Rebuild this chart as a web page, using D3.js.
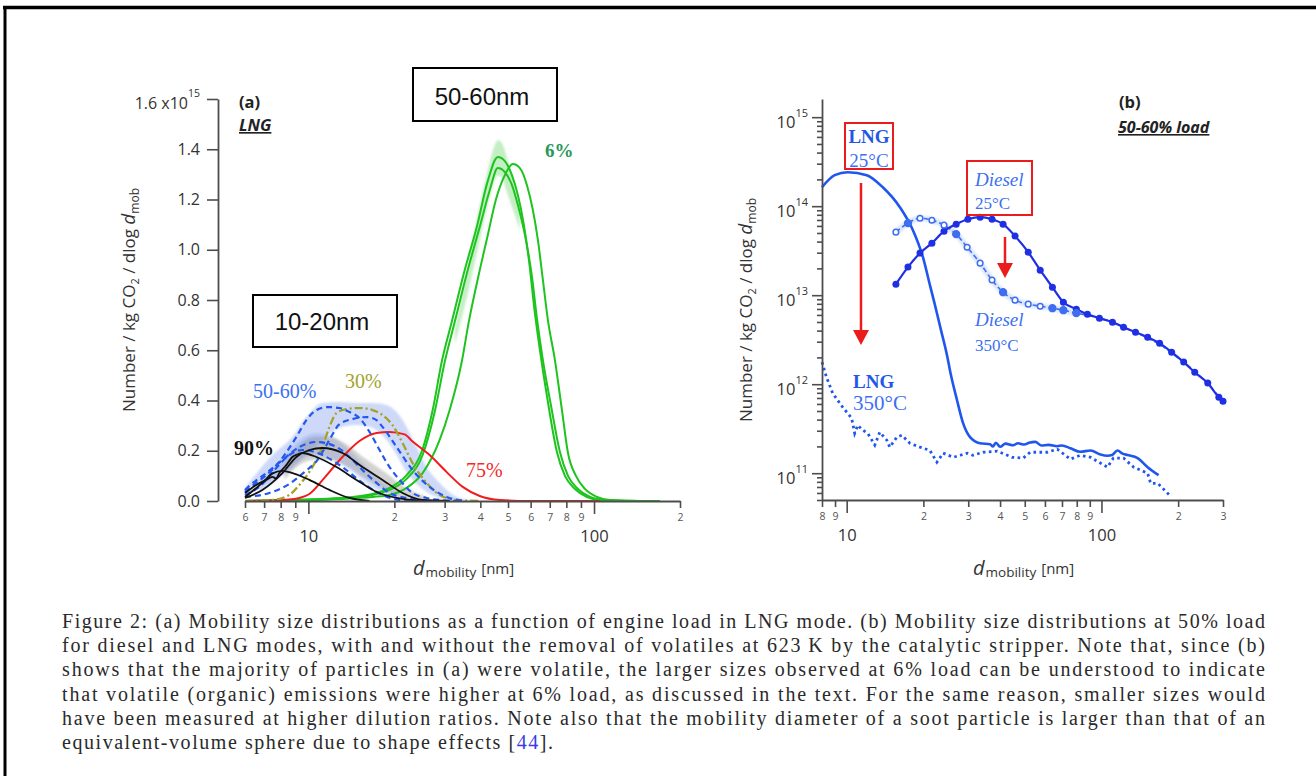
<!DOCTYPE html>
<html>
<head>
<meta charset="utf-8">
<title>Mobility size distributions</title>
<script src="https://cdn.jsdelivr.net/npm/d3@7"></script>
<style>
  html, body { margin: 0; padding: 0; background: #fff; }
  svg { display: block; }
</style>
</head>
<body>
<svg id="fig" width="1316" height="776"></svg>
<script>
// ===== Panel (a): LNG mode, size distributions by engine load =====
// each point: [mobility diameter (nm), number (1e15 / kg CO2 / dlog d)]
const load6Run1 = [[6,0],[9.3,0.006],[12.85,0.012],[16.77,0.028],[19.24,0.052],[22.08,0.103],[25.12,0.207],[27.24,0.362],[29.29,0.553],[31.76,0.712],[35.27,0.919],[38.87,1.091],[42.48,1.274],[46.06,1.369],[48.74,1.353],[51.58,1.297],[54.13,1.218],[56.82,1.099],[59.64,0.927],[61.6,0.78],[64.65,0.601],[68.96,0.394],[74.16,0.195],[79.12,0.1],[85.77,0.048],[94.49,0.016],[105,0.004],[145,0],[170,0]];
const load6Run2 = [[6,0],[9.3,0.004],[12.85,0.01],[16.77,0.024],[19.24,0.044],[22.08,0.088],[25.12,0.183],[27.68,0.354],[30.01,0.553],[32.53,0.712],[36.14,0.919],[39.81,1.091],[43.17,1.238],[46.06,1.325],[48.74,1.309],[51.58,1.258],[54.13,1.178],[57.28,1.059],[60.61,0.895],[63.1,0.728],[66.23,0.561],[70.64,0.382],[75.98,0.195],[81.07,0.1],[87.88,0.048],[96.83,0.016],[107.5,0.004],[145,0],[170,0]];
const load6Run3 = [[6,0],[9.3,0.002],[12.85,0.008],[16.77,0.016],[19.24,0.024],[22.08,0.052],[25.12,0.111],[28.82,0.243],[31.24,0.362],[34.42,0.553],[36.43,0.712],[39.81,0.919],[42.48,1.059],[45.31,1.198],[48.74,1.297],[51.99,1.341],[55.02,1.325],[58.21,1.258],[61.09,1.158],[63.61,1.039],[66.23,0.88],[68.96,0.72],[72.97,0.561],[77.22,0.362],[81.07,0.191],[86.46,0.1],[92.99,0.048],[102.4,0.016],[113.8,0.004],[145,0],[170,0]];
const load75 = [[6,0],[8.11,0.004],[9.3,0.012],[10.08,0.028],[11.38,0.092],[13.16,0.175],[15.1,0.239],[17.32,0.271],[19.24,0.275],[21.72,0.265],[23.17,0.237],[26.58,0.183],[30.5,0.115],[34.7,0.056],[39.81,0.02],[46.81,0.004],[59.64,0],[105,0]];
const load30 = [[6,0],[7.48,0.004],[8.58,0.024],[9.3,0.064],[10.33,0.135],[11.2,0.215],[11.85,0.295],[12.54,0.35],[13.6,0.366],[15.1,0.37],[16.77,0.362],[18.18,0.342],[19.71,0.302],[21.37,0.231],[23.17,0.151],[25.94,0.072],[28.82,0.024],[33.06,0.004],[40,0]];
const load5060A = [[6,0.036],[6.36,0.06],[7.12,0.103],[7.91,0.155],[8.58,0.211],[9.08,0.255],[9.84,0.322],[10.67,0.362],[11.66,0.374],[12.85,0.37],[13.93,0.354],[15.1,0.33],[16.37,0.275],[17.75,0.203],[19.24,0.135],[20.86,0.084],[23.17,0.032],[25.94,0.012],[28.82,0.004],[33.87,0]];
const load5060B = [[6,0.016],[7.3,0.032],[8.58,0.068],[9.68,0.115],[10.75,0.163],[11.85,0.243],[12.85,0.306],[14.27,0.326],[15.98,0.334],[17.32,0.322],[18.18,0.295],[20.36,0.215],[23.17,0.123],[26.58,0.056],[30.5,0.016],[35.27,0]];
const load5060C = [[6,0.044],[6.21,0.06],[7.12,0.111],[8.11,0.163],[9.3,0.215],[10.67,0.235],[12.54,0.215],[13.93,0.175],[15.47,0.123],[17.32,0.072],[19.24,0.032],[22.08,0.012],[26.58,0]];
const load5060D = [[6,0.024],[6.73,0.056],[7.6,0.123],[8.58,0.183],[9.53,0.203],[10.5,0.195],[11.57,0.175],[13.16,0.135],[15.47,0.072],[18.18,0.024],[20.86,0.004],[24.52,0]];
const load90A = [[6,0.012],[6.9,0.044],[8.11,0.111],[9.08,0.175],[10.08,0.203],[11.2,0.211],[13.16,0.191],[15.47,0.135],[18.18,0.084],[21.37,0.032],[25.12,0.004],[31.24,0]];
const load90B = [[6,0.032],[6.57,0.064],[7.12,0.084],[7.48,0.096],[7.7,0.09],[7.91,0.111],[8.37,0.143],[8.79,0.175],[9.2,0.186],[9.53,0.191],[10.67,0.175],[12.54,0.135],[14.74,0.084],[17.32,0.036],[20.36,0.012],[24.52,0]];
const load90C = [[6,0.016],[6.9,0.072],[7.5,0.11],[8.1,0.12],[8.58,0.115],[10.08,0.084],[11.85,0.044],[13.93,0.012],[16.37,0]];
// shaded spread: [diameter, lower, upper]
const spread6 = [[32.53,0.621,0.681],[36.73,0.86,0.979],[39.81,1.039,1.178],[42.48,1.178,1.317],[44.96,1.278,1.417],[46.06,1.297,1.437],[47.56,1.286,1.425],[49.92,1.218,1.357],[52.83,1.138,1.258],[55.02,1.079,1.158]];
const spread5060Upper = [[6,0.02,0.052],[7.48,0.084,0.183],[8.79,0.131,0.255],[9.84,0.183,0.334],[11.2,0.243,0.39],[12.85,0.291,0.394],[14.74,0.302,0.39],[16.77,0.291,0.39],[18.78,0.243,0.382],[20.36,0.183,0.354],[22.08,0.115,0.295],[23.93,0.068,0.215],[25.94,0.036,0.135],[28.82,0.012,0.072],[33.06,0,0.016],[36.73,0,0.004]];
const spread5060Lower = [[6.73,0.036,0.076],[7.91,0.092,0.155],[9.3,0.163,0.243],[10.67,0.183,0.271],[12.34,0.163,0.251],[13.93,0.123,0.203],[15.72,0.076,0.143],[17.75,0.036,0.084],[20.86,0.008,0.028]];
const spread90 = [[8.24,0.084,0.143],[9.3,0.143,0.223],[10.5,0.163,0.255],[11.85,0.163,0.255],[13.37,0.143,0.231],[15.72,0.092,0.171],[18.49,0.044,0.115],[21.72,0.012,0.056],[25.53,0,0.02]];

const xMinorA = [6,7,8,9,20,30,40,50,60,70,80,90,200];
const xMinorLabelsA = ["6","7","8","9","2","3","4","5","6","7","8","9","2"];
const xMajorA = [10,100];
const xMajorLabelsA = ["10","100"];
const yTicksA = [0,0.2,0.4,0.6,0.8,1.0,1.2,1.4,1.6];
const yTickLabelsA = ["0.0","0.2","0.4","0.6","0.8","1.0","1.2","1.4",""];

// ===== Panel (b): 50-60% load, diesel and LNG, with and without catalytic stripper =====
// each point: [mobility diameter (nm), number (/ kg CO2 / dlog d)]
const lng25 = [[8,1.63e14],[8.97,2.23e14],[10.1,2.41e14],[11.99,2.23e14],[13.86,1.63e14],[16.17,9.75e13],[18.2,5.37e13],[19.92,2.67e13],[21.23,1.29e13],[22.21,7.72e12],[23.45,4.05e12],[24.76,2.12e12],[25.67,1.26e12],[27.11,6.61e11],[28.63,3.65e11],[30.5,2.54e11],[33.39,2.17e11],[36.56,2.12e11],[37.5,2.0e11],[38.5,2.2e11],[40,1.98e11],[42,2.15e11],[45,2.06e11],[47,2.17e11],[49.8,2.1e11],[52,2.2e11],[55,2.25e11],[58,2.05e11],[62,2.08e11],[67.1,2.01e11],[70,2.05e11],[75.5,1.91e11],[82.6,1.74e11],[90.6,1.8e11],[99.1,1.62e11],[105.6,1.57e11],[110,1.6e11],[115.6,1.8e11],[121,1.66e11],[126.5,1.6e11],[138.6,1.48e11],[151.8,1.17e11],[167.6,9.5e10]];
const lng350 = [[8,1.77e12],[8.33,1.2e12],[8.81,7.93e11],[9.64,5.52e11],[10.46,4.15e11],[10.75,2.81e11],[11.05,3.46e11],[11.56,3.04e11],[12.1,2.81e11],[12.89,2.07e11],[13.49,2.89e11],[14.37,2.35e11],[14.76,1.96e11],[15.73,2.54e11],[16.46,2.67e11],[17.7,2.17e11],[19.4,1.96e11],[21.2,1.81e11],[22.6,1.33e11],[23.9,1.68e11],[26.2,1.51e11],[27.9,1.59e11],[29.7,1.68e11],[31.3,1.59e11],[34.3,1.72e11],[39,1.77e11],[44.6,1.51e11],[49.3,1.48e11],[52.5,1.72e11],[61.3,1.72e11],[67.1,1.86e11],[75.5,1.44e11],[82.6,1.59e11],[90.6,1.51e11],[105.6,1.17e11],[111.4,1.48e11],[122.1,1.48e11],[133.7,1.17e11],[151.8,1.0e11],[156,7.7e10],[166.4,7.7e10],[187,5.5e10]];
const diesel25 = [[15.6,1.33e13],[17.4,2.07e13],[19.4,2.97e13],[21.6,3.84e13],[24.1,5.23e13],[26.9,6.28e13],[29.9,7.14e13],[33.4,7.52e13],[37.2,7.14e13],[41.1,6.28e13],[45.8,4.61e13],[51.6,3.04e13],[57.5,1.91e13],[64.2,1.23e13],[70.9,8.34e12],[79.7,6.96e12],[88.1,6.12e12],[98.2,5.52e12],[110.5,4.98e12],[122.1,4.37e12],[136.1,3.84e12],[151.8,3.37e12],[169.1,2.89e12],[188.6,2.29e12],[210.3,1.77e12],[232.4,1.36e12],[261.4,1.03e12],[288.9,7.14e11],[300,6.44e11]];
const diesel350 = [[15.6,5.11e13],[17.4,6.44e13],[19.4,7.33e13],[21.6,6.96e13],[24.1,6.12e13],[26.9,4.85e13],[29.7,3.46e13],[33.4,2.29e13],[37.2,1.48e13],[41.1,1.08e13],[45.8,8.79e12],[51.6,7.93e12],[57.5,7.52e12],[64.2,7.14e12],[70.9,6.78e12],[79.7,6.28e12],[88.1,5.96e12],[98.2,5.52e12],[110.5,4.98e12],[122.1,4.37e12],[136.1,3.84e12],[151.8,3.29e12],[169.1,2.81e12],[188.6,2.23e12],[210.3,1.77e12],[232.4,1.4e12],[261.4,1.0e12],[288.9,7.33e11],[300,6.44e11]];
// marker style per diesel-350 point: open circle, filled dot, or none
const diesel350Markers = ["o","f","o","o","o","f","o","o","o","f","o","o","o","f","f","f","","","","","","","","","","","","",""];

const xMinorB = [8,9,20,30,40,50,60,70,80,90,200,300];
const xMinorLabelsB = ["8","9","2","3","4","5","6","7","8","9","2","3"];
const xMajorB = [10,100];
const xMajorLabelsB = ["10","100"];
const yMajorB = [1e11,1e12,1e13,1e14,1e15];
const yExpLabelsB = ["11","12","13","14","15"];

// ---------------------------------------------------------------
const svg = d3.select("#fig");
const FONT = "'Open Sans', sans-serif";
const SERIF = "'Liberation Serif', serif";
const AXC = "#4d4d4d";

const defs = svg.append("defs");
defs.append("filter").attr("id", "soft").attr("x", "-10%").attr("y", "-10%").attr("width", "120%").attr("height", "120%")
  .append("feGaussianBlur").attr("stdDeviation", 1.3);

// page frame
svg.append("line").attr("x1", 3).attr("y1", 7.5).attr("x2", 1316).attr("y2", 7.5).attr("stroke", "#000").attr("stroke-width", 3.5);
svg.append("line").attr("x1", 5).attr("y1", 6).attr("x2", 5).attr("y2", 776).attr("stroke", "#000").attr("stroke-width", 3);

function styleAxis(g) {
  g.attr("font-family", FONT);
  g.selectAll("path.domain").attr("stroke", AXC).attr("stroke-width", 1.8);
  g.selectAll(".tick line").attr("stroke", AXC).attr("stroke-width", 1.6);
}

function bottomAxis(g, x) {
  return function (minor, minorLabels, major, majorLabels) {
    g.call(d3.axisBottom(x).tickValues(minor).tickSize(7).tickSizeOuter(0).tickPadding(6)
      .tickFormat((d, i) => minorLabels[i]));
    styleAxis(g);
    g.selectAll(".tick text").attr("font-size", 10.5).attr("fill", "#555");
    const gm = g.append("g").call(d3.axisBottom(x).tickValues(major).tickSize(13).tickSizeOuter(0).tickPadding(16)
      .tickFormat((d, i) => majorLabels[i]));
    gm.select(".domain").remove();
    styleAxis(gm);
    gm.selectAll(".tick text").attr("font-size", 16.5).attr("fill", "#333");
  };
}

function xTitle(x0, y0) {
  const t = svg.append("text").attr("font-family", FONT).attr("fill", "#333");
  t.append("tspan").attr("x", x0).attr("y", y0).attr("font-size", 20).attr("font-style", "italic").text("d");
  t.append("tspan").attr("font-size", 13.5).attr("dy", 2).attr("dx", 1).text("mobility");
  t.append("tspan").attr("font-size", 15).attr("dy", -3).attr("dx", 5).text("[nm]");
}

function yTitle(cx, cy) {
  const t = svg.append("text").attr("font-family", FONT).attr("fill", "#333").attr("font-size", 17)
    .attr("text-anchor", "middle").attr("transform", `translate(${cx},${cy}) rotate(-90)`);
  t.append("tspan").text("Number / kg CO");
  t.append("tspan").attr("font-size", 11).attr("dy", 4).text("2");
  t.append("tspan").attr("dy", -4).text(" / dlog ");
  t.append("tspan").attr("font-style", "italic").attr("font-size", 19).text("d");
  t.append("tspan").attr("font-size", 12).attr("dy", 4).text("mob");
}

// ================= panel (a) =================
const xA = d3.scaleLog().domain([6, 200]).range([245, 680]);
const yA = d3.scaleLinear().domain([0, 1.6]).range([501, 99]);
const gA = svg.append("g");

const areaA = d3.area().x(d => xA(d[0])).y0(d => yA(d[1])).y1(d => yA(d[2])).curve(d3.curveMonotoneX);
const lineA = d3.line().x(d => xA(d[0])).y(d => yA(d[1])).curve(d3.curveMonotoneX);

[[spread5060Upper, "rgba(125,155,240,0.38)"], [spread5060Lower, "rgba(125,155,240,0.32)"],
 [spread90, "rgba(140,140,140,0.38)"], [spread6, "rgba(100,210,100,0.38)"]]
  .forEach(([data, fill]) => gA.append("path").attr("d", areaA(data)).attr("fill", fill).attr("filter", "url(#soft)"));

const seriesA = [
  { data: load6Run3, color: "#1ec41e", dash: null, w: 2 },
  { data: load6Run2, color: "#1ec41e", dash: null, w: 2 },
  { data: load6Run1, color: "#1ec41e", dash: null, w: 2 },
  { data: load75, color: "#f21c1c", dash: null, w: 2 },
  { data: load30, color: "#a3a329", dash: "8,3,2,3", w: 2.3 },
  { data: load5060A, color: "#2357ee", dash: "6,4", w: 2.2 },
  { data: load5060B, color: "#2357ee", dash: "6,4", w: 2.2 },
  { data: load5060C, color: "#2357ee", dash: "6,4", w: 2.2 },
  { data: load5060D, color: "#2357ee", dash: "6,4", w: 2.2 },
  { data: load90A, color: "#111", dash: null, w: 1.8 },
  { data: load90B, color: "#111", dash: null, w: 1.8 },
  { data: load90C, color: "#111", dash: null, w: 1.8 }
];
seriesA.forEach(s => gA.append("path").attr("d", lineA(s.data)).attr("fill", "none")
  .attr("stroke", s.color).attr("stroke-width", s.w).attr("stroke-dasharray", s.dash));

// axes (a)
const yAxA = gA.append("g").attr("transform", "translate(218,0)")
  .call(d3.axisLeft(yA).tickValues(yTicksA).tickSize(11).tickSizeOuter(0).tickPadding(7)
    .tickFormat((d, i) => yTickLabelsA[i]));
styleAxis(yAxA);
yAxA.selectAll(".tick text").attr("font-size", 16).attr("fill", "#333");
const topLab = gA.append("text").attr("x", 200).attr("y", 109).attr("text-anchor", "end")
  .attr("font-family", FONT).attr("font-size", 16).attr("fill", "#333");
topLab.append("tspan").text("1.6 x10");
topLab.append("tspan").attr("font-size", 10.5).attr("dy", -12).text("15");

const xAxA = gA.append("g").attr("transform", "translate(0,501)");
bottomAxis(xAxA, xA)(xMinorA, xMinorLabelsA, xMajorA, xMajorLabelsA);

xTitle(413, 575);
yTitle(135, 300);

// panel (a) headings and annotations
gA.append("text").attr("x", 239).attr("y", 108).attr("font-family", FONT).attr("font-weight", 700)
  .attr("font-size", 16.5).attr("fill", "#222").text("(a)");
gA.append("text").attr("x", 239).attr("y", 131).attr("font-family", FONT).attr("font-weight", 700)
  .attr("font-style", "italic").attr("text-decoration", "underline").attr("font-size", 16.5).attr("fill", "#222").text("LNG");

function boxLabel(x, y, w, h, label, tx, ty) {
  gA.append("rect").attr("x", x).attr("y", y).attr("width", w).attr("height", h)
    .attr("fill", "#fff").attr("stroke", "#000").attr("stroke-width", 2);
  gA.append("text").attr("x", tx).attr("y", ty).attr("text-anchor", "middle")
    .attr("font-family", "'Liberation Sans', Arial, sans-serif").attr("font-size", 24).attr("fill", "#111").text(label);
}
boxLabel(253, 295, 144, 52, "10-20nm", 322, 330);
boxLabel(413, 68, 144, 53, "50-60nm", 482, 105);

const notesA = [
  { t: "6%", x: 545, y: 157, c: "#27985a", b: true, s: 19 },
  { t: "50-60%", x: 253, y: 398, c: "#3d6ff2", b: false, s: 20 },
  { t: "30%", x: 345, y: 388, c: "#a3a32e", b: false, s: 20 },
  { t: "90%", x: 234, y: 455, c: "#111", b: true, s: 20 },
  { t: "75%", x: 466, y: 477, c: "#f22a2a", b: false, s: 20 }
];
notesA.forEach(n => gA.append("text").attr("x", n.x).attr("y", n.y).attr("font-family", SERIF)
  .attr("font-size", n.s).attr("font-weight", n.b ? 700 : 400).attr("fill", n.c).text(n.t));

// ================= panel (b) =================
const xB = d3.scaleLog().domain([8, 300]).range([822, 1223]);
const yB = d3.scaleLog().domain([5e10, 1.6e15]).range([500, 99]);
const gB = svg.append("g");
const lineB = d3.line().x(d => xB(d[0])).y(d => yB(d[1])).curve(d3.curveMonotoneX);
const lineBRaw = d3.line().x(d => xB(d[0])).y(d => yB(d[1]));

// diesel, stripper on (halo + dashed line)
gB.append("path").attr("d", lineB(diesel350.slice(0, 16))).attr("fill", "none")
  .attr("stroke", "rgba(150,180,245,0.35)").attr("stroke-width", 6).attr("filter", "url(#soft)");
gB.append("path").attr("d", lineB(diesel350)).attr("fill", "none")
  .attr("stroke", "#3f6ef0").attr("stroke-width", 1.6).attr("stroke-dasharray", "5,3");
// diesel, no stripper
gB.append("path").attr("d", lineB(diesel25)).attr("fill", "none").attr("stroke", "#1f2fe4").attr("stroke-width", 2.2);
// LNG curves
gB.append("path").attr("d", lineB(lng25)).attr("fill", "none").attr("stroke", "#1f56ee").attr("stroke-width", 2.6);
gB.append("path").attr("d", lineBRaw(lng350)).attr("fill", "none").attr("stroke", "#1f56ee")
  .attr("stroke-width", 2.8).attr("stroke-dasharray", "2.6,3.4");

// markers
gB.selectAll("circle.d25").data(diesel25).enter().append("circle").attr("class", "d25")
  .attr("cx", d => xB(d[0])).attr("cy", d => yB(d[1])).attr("r", 3.5).attr("fill", "#1f2fe4");
const d350Pts = diesel350.map((d, i) => ({ d, m: diesel350Markers[i] })).filter(p => p.m !== "");
gB.selectAll("circle.d350").data(d350Pts).enter().append("circle").attr("class", "d350")
  .attr("cx", p => xB(p.d[0])).attr("cy", p => yB(p.d[1]))
  .attr("r", p => p.m === "o" ? 2.8 : 3.4)
  .attr("fill", p => p.m === "o" ? "#fff" : "#3f6ef0")
  .attr("stroke", "#3f6ef0").attr("stroke-width", 1.5);

// axes (b)
const yAxB = gB.append("g").attr("transform", "translate(822,0)")
  .call(d3.axisLeft(yB).tickValues(yMajorB).tickSize(10).tickSizeOuter(0).tickFormat(""));
styleAxis(yAxB);
const minorB = [];
for (let e = 10; e <= 14; e++) for (let k = 2; k <= 9; k++) {
  const v = k * Math.pow(10, e);
  if (v >= 5e10 && v <= 1.6e15) minorB.push(v);
}
const yAxBm = gB.append("g").attr("transform", "translate(822,0)")
  .call(d3.axisLeft(yB).tickValues(minorB).tickSize(5).tickSizeOuter(0).tickFormat(""));
yAxBm.select(".domain").remove();
styleAxis(yAxBm);
yMajorB.forEach((v, i) => {
  const t = gB.append("text").attr("x", 808).attr("y", yB(v) + 11).attr("text-anchor", "end")
    .attr("font-family", FONT).attr("font-size", 16.5).attr("fill", "#333");
  t.append("tspan").text("10");
  t.append("tspan").attr("font-size", 11).attr("dy", -11).text(yExpLabelsB[i]);
});
const xAxB = gB.append("g").attr("transform", "translate(0,500)");
bottomAxis(xAxB, xB)(xMinorB, xMinorLabelsB, xMajorB, xMajorLabelsB);

xTitle(973, 575);
yTitle(752, 310);

gB.append("text").attr("x", 1119).attr("y", 108).attr("font-family", FONT).attr("font-weight", 700)
  .attr("font-size", 16.5).attr("fill", "#222").text("(b)");
gB.append("text").attr("x", 1118).attr("y", 133).attr("font-family", FONT).attr("font-weight", 700)
  .attr("font-style", "italic").attr("text-decoration", "underline").attr("font-size", 16).attr("fill", "#222").text("50-60% load");

// annotations (b)
const RED = "#ea1c1c";
gB.append("rect").attr("x", 845).attr("y", 123).attr("width", 48).attr("height", 46)
  .attr("fill", "none").attr("stroke", RED).attr("stroke-width", 2);
gB.append("rect").attr("x", 967).attr("y", 161).attr("width", 65).attr("height", 54)
  .attr("fill", "none").attr("stroke", RED).attr("stroke-width", 2);
function arrow(x, y1, y2) {
  gB.append("line").attr("x1", x).attr("y1", y1).attr("x2", x).attr("y2", y2 - 12).attr("stroke", RED).attr("stroke-width", 2.5);
  gB.append("path").attr("d", `M${x - 8},${y2 - 15}L${x + 8},${y2 - 15}L${x},${y2}Z`).attr("fill", RED);
}
arrow(861, 183, 345);
arrow(1005, 237, 278);

const notesB = [
  { t: "LNG", x: 869, y: 143, s: 19, b: true, i: false, a: "middle", c: "#2358e6" },
  { t: "25°C", x: 869, y: 167, s: 19, b: false, i: false, a: "middle", c: "#3d6ff2" },
  { t: "Diesel", x: 975, y: 186, s: 19, b: false, i: true, a: "start", c: "#3d6ff2" },
  { t: "25°C", x: 975, y: 209, s: 17, b: false, i: false, a: "start", c: "#3d6ff2" },
  { t: "Diesel", x: 975, y: 326, s: 19, b: false, i: true, a: "start", c: "#3d6ff2" },
  { t: "350°C", x: 975, y: 351, s: 17, b: false, i: false, a: "start", c: "#3d6ff2" },
  { t: "LNG", x: 853, y: 388, s: 19, b: true, i: false, a: "start", c: "#2358e6" },
  { t: "350°C", x: 853, y: 410, s: 21, b: false, i: false, a: "start", c: "#3d6ff2" }
];
notesB.forEach(n => gB.append("text").attr("x", n.x).attr("y", n.y).attr("text-anchor", n.a)
  .attr("font-family", SERIF).attr("font-size", n.s).attr("font-weight", n.b ? 700 : 400)
  .attr("font-style", n.i ? "italic" : "normal").attr("fill", n.c).text(n.t));

// ================= caption =================
const captionLines = [
  "Figure 2:  (a) Mobility size distributions as a function of engine load in LNG mode. (b) Mobility size distributions at 50% load",
  "for diesel and LNG modes, with and without the removal of volatiles at 623\u2009K by the catalytic stripper.  Note that, since (b)",
  "shows that the majority of particles in (a) were volatile, the larger sizes observed at 6% load can be understood to indicate",
  "that volatile (organic) emissions were higher at 6% load, as discussed in the text. For the same reason, smaller sizes would",
  "have been measured at higher dilution ratios. Note also that the mobility diameter of a soot particle is larger than that of an"
];
const cap = svg.append("g").attr("font-family", SERIF).attr("font-size", 20).attr("fill", "#2a2a2a");
captionLines.forEach((s, i) => {
  cap.append("text").attr("x", 62).attr("y", 628 + i * 24.2).attr("textLength", 1203)
    .attr("lengthAdjust", "spacing").text(s);
});
const last = cap.append("text").attr("x", 62).attr("y", 628 + 5 * 24.2).attr("textLength", 491).attr("lengthAdjust", "spacing");
last.append("tspan").text("equivalent-volume sphere due to shape effects [");
last.append("tspan").attr("fill", "#3a3ae6").text("44");
last.append("tspan").text("].");
</script>
</body>
</html>
